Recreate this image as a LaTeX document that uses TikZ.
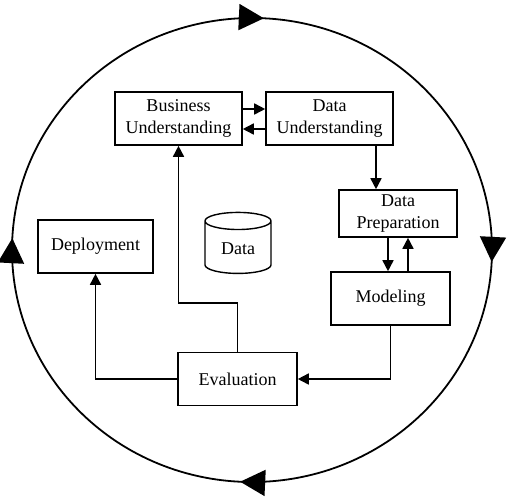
\documentclass[tikz,border=0pt]{standalone}
\usepackage{fontspec}
\setmainfont{Liberation Serif}
\usepackage{tikz}
\usetikzlibrary{arrows.meta,calc,positioning,shapes.geometric,decorations.markings}

\begin{document}
\begin{tikzpicture}[
  x=1pt,y=-1pt,
  >={Triangle[length=11pt,width=11pt]},
  font=\fontsize{18}{22}\selectfont,
  phase/.style={rectangle,draw=black,line width=1.6pt,fill=white,align=center,inner sep=2pt},
  store/.style={cylinder,shape border rotate=90,aspect=0.45,draw=black,line width=1.4pt,
    minimum width=66pt,minimum height=61pt,inner sep=2pt},
  edge/.style={->,line width=1.6pt,draw=black},
  ring/.style={line width=1.8pt,draw=black,postaction={decorate},
    decoration={markings,
      mark=at position 0.242 with {\arrowreversed{Triangle[length=25pt,width=26pt]}},
      mark=at position 0.492 with {\arrowreversed{Triangle[length=25pt,width=26pt]}},
      mark=at position 0.742 with {\arrowreversed{Triangle[length=25pt,width=26pt]}},
      mark=at position 0.992 with {\arrowreversed{Triangle[length=25pt,width=26pt]}}}}
]
\useasboundingbox (0,0) rectangle (510,496);
% outer cycle
\draw[ring] (252,250) ellipse [x radius=240pt,y radius=232pt];
% phases
\node[phase,minimum width=127pt,minimum height=53pt] (bu) at (178.5,118.5) {Business\\Understanding};
\node[phase,minimum width=127pt,minimum height=53pt] (du) at (329.5,118.5) {Data\\Understanding};
\node[phase,minimum width=118pt,minimum height=47pt] (dp) at (398,213.5) {Data\\Preparation};
\node[phase,minimum width=119pt,minimum height=53pt] (mod) at (390.5,298.5) {Modeling};
\node[phase,minimum width=119pt,minimum height=53pt] (eval) at (237.5,379) {Evaluation};
\node[phase,minimum width=115pt,minimum height=53pt] (dep) at (95.5,246.5) {Deployment};
\node[store] (data) at (238,249) {Data};
% flow between phases
\draw[edge] ([yshift=9.5pt]bu.east) -- ([yshift=9.5pt]du.west);
\draw[edge] ([yshift=-10.5pt]du.west) -- ([yshift=-10.5pt]bu.east);
\draw[edge] ([xshift=46.5pt]du.south) -- ([xshift=46.5pt]du.south |- dp.north);
\draw[edge] ([xshift=-10pt]dp.south) -- ([xshift=-10pt]dp.south |- mod.north);
\draw[edge] ([xshift=10pt]dp.south |- mod.north) -- ([xshift=10pt]dp.south);
\draw[edge] (mod.south) |- (eval.east);
\draw[edge] (eval.north) -- ++(0,-49) -| (bu.south);
\draw[edge] (eval.west) -| (dep.south);
\end{tikzpicture}
\end{document}
